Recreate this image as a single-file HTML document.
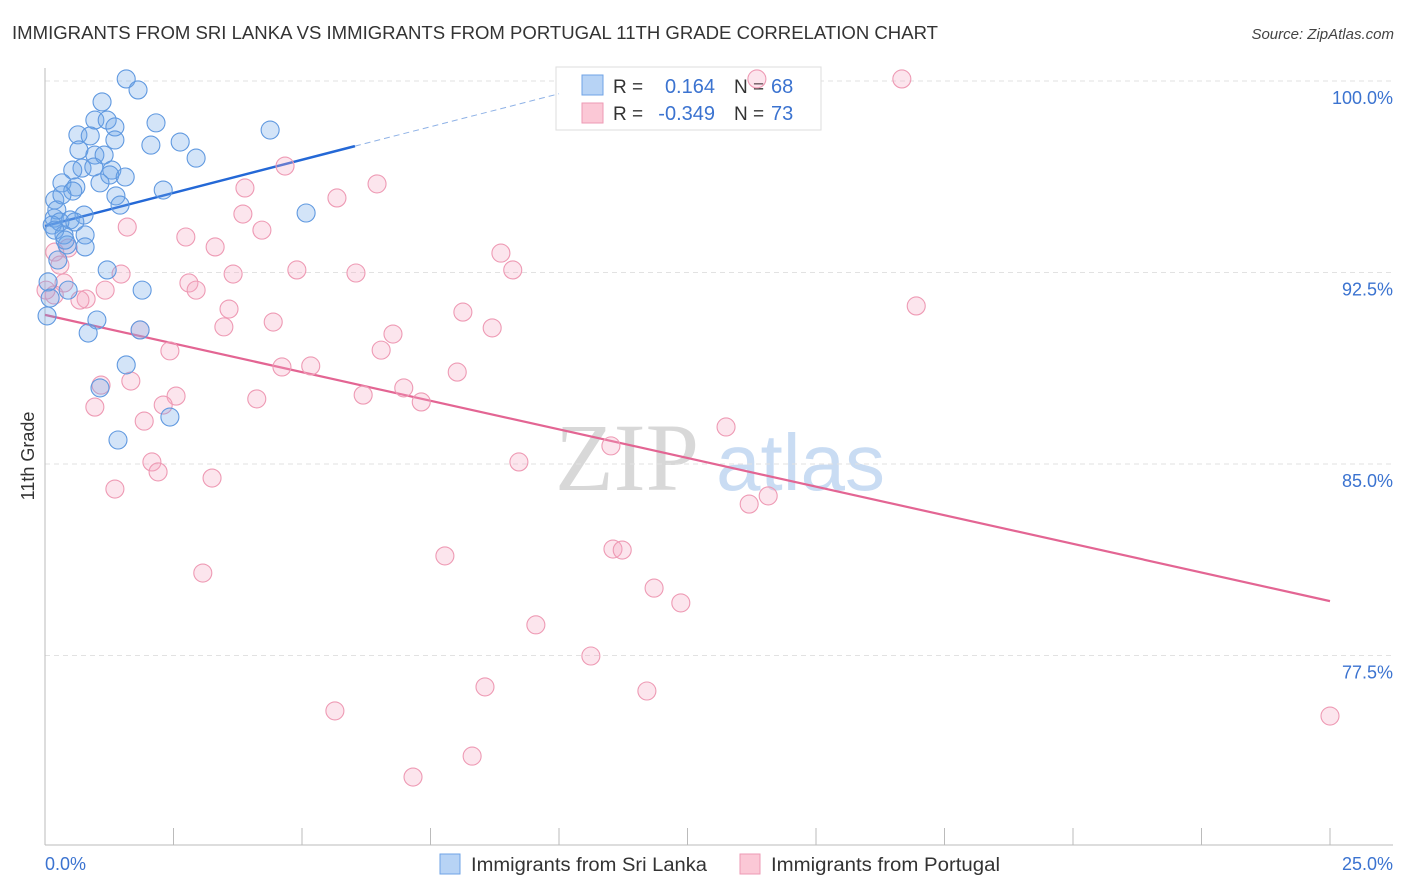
<!DOCTYPE html>
<html><head><meta charset="utf-8"><style>
body{margin:0;background:#fff;font-family:"Liberation Sans",sans-serif;}
svg{display:block}
</style></head><body>
<svg id="chart" width="1406" height="892" xmlns="http://www.w3.org/2000/svg">
<text x="12" y="39" font-size="18" fill="#333" textLength="926" lengthAdjust="spacingAndGlyphs">IMMIGRANTS FROM SRI LANKA VS IMMIGRANTS FROM PORTUGAL 11TH GRADE CORRELATION CHART</text>
<text x="1394" y="39" font-size="15" fill="#444" font-style="italic" text-anchor="end">Source: ZipAtlas.com</text>
<text x="34" y="456" font-size="18" fill="#333" text-anchor="middle" transform="rotate(-90 34 456)">11th Grade</text>
<g>
<text x="555" y="490" font-size="96" font-family="Liberation Serif,serif" fill="#d8d8d8">ZIP</text>
<text x="716" y="490" font-size="80" fill="#c9dcf3">atlas</text>
</g>
<g id="grid"></g><g id="axes"></g>
<g>
<rect x="556" y="67" width="265" height="63" fill="#fff" stroke="#ddd"/>
<rect x="582" y="75" width="21" height="20" fill="#b7d3f5" stroke="#6fa3e6"/>
<rect x="582" y="103" width="21" height="20" fill="#fbc8d6" stroke="#ee9ab4"/>
<text x="613" y="93" font-size="19" fill="#333">R =</text>
<text x="715" y="93" font-size="20" fill="#3b73d0" text-anchor="end">0.164</text>
<text x="734" y="93" font-size="19" fill="#333">N =</text>
<text x="771" y="93" font-size="20" fill="#3b73d0">68</text>
<text x="613" y="120" font-size="19" fill="#333">R =</text>
<text x="715" y="120" font-size="20" fill="#3b73d0" text-anchor="end">-0.349</text>
<text x="734" y="120" font-size="19" fill="#333">N =</text>
<text x="771" y="120" font-size="20" fill="#3b73d0">73</text>
</g>
<g id="lines"></g><g id="pts"></g>
<g>
<rect x="440" y="854" width="20" height="20" fill="#b7d3f5" stroke="#6fa3e6"/>
<text x="471" y="871" font-size="19" fill="#333" textLength="236" lengthAdjust="spacingAndGlyphs">Immigrants from Sri Lanka</text>
<rect x="740" y="854" width="20" height="20" fill="#fbc8d6" stroke="#ee9ab4"/>
<text x="771" y="871" font-size="19" fill="#333" textLength="229" lengthAdjust="spacingAndGlyphs">Immigrants from Portugal</text>
</g>
</svg>
<script>
const yTicks=[100,92.5,85,77.5];
const yTickLabels=["100.0%","92.5%","85.0%","77.5%"];
const xTickLabels=["0.0%","25.0%"];
const blueX=[1.58,1.81,1.11,0.97,1.21,1.36,2.16,0.64,0.88,1.36,2.06,2.63,0.66,0.97,1.15,2.94,0.72,0.95,1.30,1.26,0.54,1.07,1.56,0.33,0.60,0.54,2.30,1.38,1.46,0.19,0.23,0.18,0.76,0.49,0.58,0.29,0.14,0.37,0.78,0.43,0.78,4.38,5.08,0.25,1.21,0.06,0.10,0.45,1.89,0.04,1.01,0.84,1.85,1.58,1.07,2.43,1.42,0.19,0.39,0.33];
const blueY=[100.08,99.65,99.18,98.47,98.47,98.20,98.36,97.89,97.85,97.69,97.49,97.61,97.30,97.10,97.10,96.98,96.59,96.63,96.51,96.32,96.51,96.01,96.24,96.01,95.85,95.69,95.73,95.50,95.14,95.34,94.95,94.63,94.75,94.56,94.48,94.48,94.36,93.97,93.97,93.58,93.50,98.08,94.83,92.99,92.60,92.13,91.50,91.81,91.81,90.80,90.64,90.13,90.25,88.88,87.98,86.84,85.94,94.16,93.77,95.54];
const pinkX=[13.85,16.67,4.67,6.46,3.89,5.68,3.85,1.60,4.22,2.74,3.31,8.87,0.19,0.29,4.90,6.05,3.66,9.10,1.48,2.80,2.94,0.37,1.17,0.80,0.68,0.18,3.58,8.13,4.44,16.95,8.70,3.48,6.77,1.85,6.54,2.43,4.61,5.17,8.02,6.98,1.09,6.19,7.32,2.55,4.12,2.30,0.97,1.67,1.93,13.25,11.01,2.08,2.20,9.22,3.25,14.07,13.70,1.36,7.78,11.05,11.23,3.07,11.85,12.37,9.55,10.62,8.56,11.71,5.64,25.0,8.31,7.16,0.45,0.02];
const pinkY=[100.08,100.08,96.67,95.97,95.81,95.42,94.79,94.28,94.16,93.89,93.50,93.26,93.30,92.79,92.60,92.48,92.44,92.60,92.44,92.09,91.81,92.09,91.81,91.46,91.42,91.62,91.07,90.95,90.56,91.19,90.33,90.37,90.09,90.25,89.46,89.43,88.80,88.84,88.60,87.98,88.09,87.70,87.43,87.66,87.55,87.31,87.23,88.25,86.68,86.45,85.71,85.08,84.69,85.08,84.45,83.75,83.43,84.02,81.40,81.67,81.63,80.73,80.14,79.56,78.70,77.48,76.27,76.11,75.33,75.13,73.56,72.74,93.46,91.81];
const blueTrend=[[0,94.32],[6.03,97.45],[10.0,99.5]];
const pinkTrend=[[0,90.84],[25,79.63]];
const NS="http://www.w3.org/2000/svg";
const X=v=>45+v/25*1285;
const Y=v=>81+(100-v)/7.5*191.5;
function mk(tag,attrs,parent){const e=document.createElementNS(NS,tag);for(const k in attrs)e.setAttribute(k,attrs[k]);document.getElementById(parent).appendChild(e);return e;}
yTicks.forEach((t,i)=>{
 const l=mk('line',{x1:45,x2:1393,y1:Y(t),y2:Y(t),stroke:'#e2e2e2','stroke-dasharray':'5,4'},'grid');
 
 
 const tx=mk('text',{x:1393,y:Y(t)+23,'font-size':18,fill:'#3b73d0','text-anchor':'end'},'grid');
 tx.textContent=yTickLabels[i];
 
 
});
let ya=mk('line',{x1:45,x2:45,y1:68,y2:845,stroke:'#bbb'},'axes');


let xa=mk('line',{x1:45,x2:1393,y1:845,y2:845,stroke:'#bbb'},'axes');


for(let i=0;i<=10;i++){const t=mk('line',{x1:X(i*2.5),x2:X(i*2.5),y1:828,y2:845,stroke:'#bbb'},'axes');
 
 }
let xl0=mk('text',{x:45,y:870,'font-size':18,fill:'#3b73d0'},'axes');xl0.textContent=xTickLabels[0];


let xl1=mk('text',{x:1393,y:870,'font-size':18,fill:'#3b73d0','text-anchor':'end'},'axes');xl1.textContent=xTickLabels[1];


function dots(xs,ys,fill,stroke,name){xs.forEach((x,i)=>{const c=mk('circle',{cx:X(x),cy:Y(ys[i]),r:9,fill:fill,stroke:stroke,'stroke-width':1.1},'pts');
 
 });}
dots(pinkX,pinkY,'rgba(246,170,196,0.3)','#ee9ab4','point-portugal');
dots(blueX,blueY,'rgba(110,165,232,0.3)','#6099e0','point-sri-lanka');
let b1=mk('line',{x1:X(blueTrend[0][0]),y1:Y(blueTrend[0][1]),x2:X(blueTrend[1][0]),y2:Y(blueTrend[1][1]),stroke:'#2468d6','stroke-width':2.5},'lines');


let b2=mk('line',{x1:X(blueTrend[1][0]),y1:Y(blueTrend[1][1]),x2:X(blueTrend[2][0]),y2:Y(blueTrend[2][1]),stroke:'#8fb2e6','stroke-width':1,'stroke-dasharray':'6,4'},'lines');


let p1=mk('line',{x1:X(pinkTrend[0][0]),y1:Y(pinkTrend[0][1]),x2:X(pinkTrend[1][0]),y2:Y(pinkTrend[1][1]),stroke:'#e36593','stroke-width':2.2},'lines');


</script>
</body></html>
